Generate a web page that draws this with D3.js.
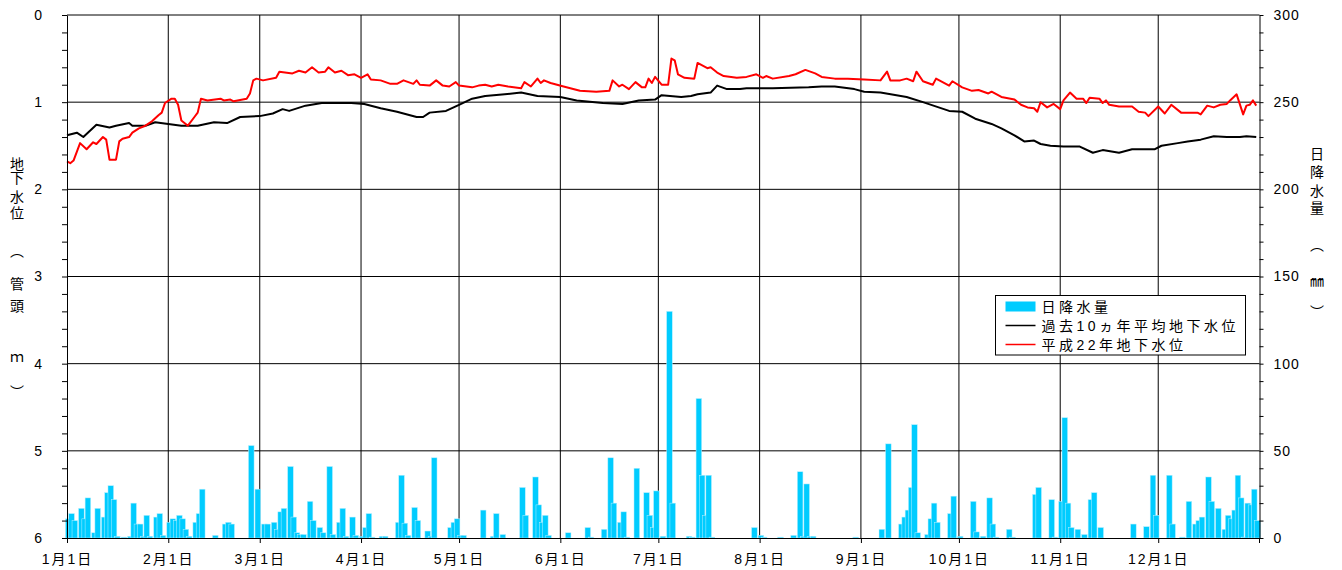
<!DOCTYPE html>
<html>
<head>
<meta charset="utf-8">
<script src="https://cdn.jsdelivr.net/npm/d3@7"></script>
<style>
body{margin:0;background:#fff;}
svg text{font-family:"Liberation Sans",Arial,"Noto Sans CJK JP",sans-serif;fill:#000;}
</style>
</head>
<body>
<svg id="chart" width="1342" height="570"></svg>
<script>
// month gridlines (day of year) and their labels
var monthStart = [0, 31, 59, 90, 120, 151, 181, 212, 243, 273, 304, 334];
var monthLabel = ['1月1日','2月1日','3月1日','4月1日','5月1日','6月1日','7月1日','8月1日','9月1日','10月1日','11月1日','12月1日'];

// daily rainfall (mm), day of year
var rainDay = [0,1,2,4,5,6,8,9,11,12,13,14,15,17,19,20,21,22,23,24,25,27,28,29,
  31,32,33,34,35,36,37,39,40,41,45,48,49,50,56,58,
  60,61,63,64,65,66,68,69,70,71,72,74,75,77,78,80,81,83,84,85,87,88,
  90,91,92,93,96,97,101,102,103,104,106,107,110,111,112,117,118,119,
  120,121,127,130,131,133,139,140,143,144,145,146,147,
  153,159,160,164,166,167,169,170,171,174,177,178,179,180,
  182,184,185,190,191,193,194,195,196,197,
  210,212,213,218,222,224,225,226,227,228,241,
  249,251,255,256,257,258,259,260,263,264,265,266,270,271,273,
  277,278,280,282,283,284,288,289,296,297,301,302,
  304,305,306,307,309,311,313,314,316,326,330,332,333,
  337,338,341,343,345,346,347,349,350,352,354,355,356,357,358,359,360,361,362,363,364];
var rainMm = [11,14,10,17,11,23,3,17,12,26,30,22,1,0.5,1,20,8,8,1,13,1,12,14,1.5,
  9,11,10,13,11,5,1,9,14,28,1.5,8,9,8,53,28,
  8,8,9,5,15,17,41,12,3,2,2,21,10,6,3,41,2,9,17,1,12,1.5,
  1,6,14,0.5,1,1,9,36,8.5,1.5,17.5,10,4,1,46,6,9,11,
  1.5,1.5,16,1,14,2,29,13,35,19,9,13,1.5,
  3,6,0.5,5,46,20,9,15,0.5,40,26,13,6,27,
  1,130,20,1,0.5,80,36,13,36,0.5,
  6,1.5,0.5,0.5,1.5,38,1,31,1,1,0.5,
  5,54,8,12,16,29,65,3,2,11,20,9,14,24,1,
  21,3.5,1,23,8,0.5,5,0.5,25,29,22,0.5,
  21,69,20,6,5,2,22,26,6,8,6.5,36,13,
  36,8,0.5,21,8,10,12,35,21,17,5,13,11,16,36,23,0.5,20,19,28,10];

// 10-year average groundwater level (m below pipe head)
var avgDay = [0,3,5,9,13,15,19,20,24,27,31,35,40,45,49,53,59,63,66,68,73,78,87,91,96,101,107,109,111,116,
  120,124,128,134,139,144,151,156,164,170,175,180,182,188,191,193,197,199,202,206,208,216,227,231,235,
  241,244,249,257,262,270,274,278,283,286,290,293,296,298,301,305,310,314,317,322,326,333,335,340,343,
  347,351,355,359,361,364];
var avgLevel = [1.38,1.35,1.40,1.26,1.29,1.27,1.24,1.27,1.27,1.23,1.25,1.27,1.27,1.23,1.24,1.17,1.16,1.13,1.08,1.10,1.04,1.01,1.01,1.02,1.07,1.11,1.17,1.17,1.12,1.10,
  1.03,0.96,0.93,0.91,0.89,0.93,0.94,0.98,1.01,1.02,0.98,0.97,0.92,0.94,0.93,0.91,0.89,0.81,0.85,0.85,0.84,0.84,0.83,0.82,0.82,
  0.85,0.88,0.89,0.94,1.00,1.10,1.11,1.19,1.25,1.30,1.38,1.45,1.44,1.48,1.50,1.51,1.51,1.58,1.55,1.58,1.54,1.54,1.50,1.47,1.45,
  1.43,1.39,1.40,1.40,1.39,1.40];

// H22 observed groundwater level
var obsDay = [0,1,2,4,6,8,9,11,12,13,15,16,17,19,20,22,24,26,28,29,30,32,33,34,35,37,39,40,41,43,47,48,50,51,55,56,57,58,60,
  64,65,69,71,73,75,77,79,80,82,84,86,88,90,92,93,96,99,101,103,106,107,108,111,113,115,117,119,
  120,124,126,128,130,132,135,139,140,142,144,145,146,148,152,157,162,166,167,169,170,172,174,176,177,178,179,180,
  182,184,185,186,187,189,192,193,196,197,199,201,205,208,211,213,214,216,221,223,226,229,231,235,239,
  244,249,251,252,255,257,259,260,262,265,266,270,271,274,277,279,282,283,286,290,292,294,296,297,298,300,302,
  304,305,307,309,311,312,313,316,317,318,319,322,326,328,330,331,334,336,338,341,344,346,347,349,351,353,355,356,
  358,360,361,362,363,364];
var obsLevel = [1.68,1.70,1.67,1.47,1.54,1.46,1.48,1.40,1.43,1.66,1.66,1.45,1.42,1.40,1.35,1.30,1.27,1.22,1.15,1.12,1.01,0.96,0.96,1.03,1.21,1.27,1.17,1.12,0.96,0.98,0.96,0.98,0.97,0.99,0.96,0.90,0.75,0.73,0.75,
  0.72,0.65,0.67,0.64,0.66,0.60,0.66,0.65,0.60,0.66,0.64,0.69,0.68,0.72,0.68,0.74,0.75,0.79,0.79,0.75,0.79,0.75,0.80,0.81,0.75,0.81,0.82,0.77,
  0.81,0.83,0.81,0.80,0.82,0.80,0.82,0.84,0.77,0.82,0.73,0.78,0.75,0.78,0.82,0.87,0.88,0.87,0.75,0.82,0.80,0.85,0.77,0.83,0.83,0.73,0.78,0.71,
  0.80,0.80,0.50,0.52,0.68,0.72,0.73,0.55,0.61,0.60,0.66,0.70,0.72,0.71,0.68,0.72,0.70,0.73,0.70,0.68,0.63,0.67,0.71,0.73,0.73,
  0.74,0.75,0.65,0.75,0.75,0.73,0.76,0.65,0.76,0.80,0.73,0.81,0.76,0.83,0.87,0.86,0.90,0.88,0.94,0.97,1.03,1.06,1.07,1.11,1.00,1.06,1.02,
  1.08,0.98,0.89,0.96,0.96,1.01,0.95,0.96,1.01,0.98,1.03,1.05,1.05,1.11,1.12,1.16,1.05,1.13,1.03,1.12,1.12,1.12,1.14,1.04,1.06,1.03,1.02,0.98,
  0.91,1.14,1.04,1.03,0.98,1.04];

var leftTicks = d3.range(0, 31).map(function(i){ return i / 5; });
var rightTicks = d3.range(0, 31).map(function(i){ return i * 10; });

var seriesNames = ['日降水量', '過去10ヵ年平均地下水位', '平成22年地下水位'];
var leftTitle = ['地','下','水','位','︵','管','頭','ｍ','︶'];
var rightTitle = ['日','降','水','量','︵','㎜','︶'];

var svg = d3.select('#chart');
var L = 67, R = 1259.5, T = 15, B = 538;

var x = d3.scaleLinear().domain([0, 365]).range([L, R]);
var yL = d3.scaleLinear().domain([0, 6]).range([T, B]);
var yR = d3.scaleLinear().domain([0, 300]).range([B, T]);

// grid
var grid = svg.append('g');
grid.selectAll('line.h')
    .data([1, 2, 3, 4, 5])
    .enter().append('line')
    .attr('x1', L).attr('x2', R)
    .attr('y1', function(d){ return yL(d); })
    .attr('y2', function(d){ return yL(d); })
    .attr('stroke', '#000').attr('stroke-width', 1);
grid.selectAll('line.v')
    .data(monthStart.slice(1))
    .enter().append('line')
    .attr('x1', function(d){ return x(d); })
    .attr('x2', function(d){ return x(d); })
    .attr('y1', T).attr('y2', B)
    .attr('stroke', '#000').attr('stroke-width', 1);
// top border
svg.append('line').attr('x1', L).attr('x2', R).attr('y1', T).attr('y2', T)
    .attr('stroke', '#000').attr('stroke-width', 1);

// rain bars
var bw = 5.6;
var rain = rainDay.map(function(d, i){ return {day: d, mm: rainMm[i]}; });
svg.append('g')
    .selectAll('rect')
    .data(rain)
    .enter().append('rect')
    .attr('x', function(d){ return x(d.day + 0.4) - bw / 2; })
    .attr('width', bw)
    .attr('y', function(d){ return yR(d.mm); })
    .attr('height', function(d){ return B - yR(d.mm); })
    .attr('fill', '#00ccff')
    .attr('stroke', '#b8efff')
    .attr('stroke-width', 0.5);

// level lines
function levelLine(days, vals, color){
    var pts = days.map(function(d, i){ return [x(d), yL(vals[i])]; });
    svg.append('path')
        .attr('d', d3.line()(pts))
        .attr('fill', 'none')
        .attr('stroke', color)
        .attr('stroke-width', 2)
        .attr('stroke-linejoin', 'round');
}
levelLine(avgDay, avgLevel, '#000');
levelLine(obsDay, obsLevel, '#ff0000');

// axes
var axL = svg.append('g').attr('transform', 'translate(' + L + ',0)')
    .call(d3.axisLeft(yL).tickValues(leftTicks).tickSize(5).tickSizeOuter(0).tickPadding(20)
        .tickFormat(function(d){ return Math.abs(d - Math.round(d)) < 1e-6 ? d3.format('d')(d) : ''; }));
var axR = svg.append('g').attr('transform', 'translate(' + R + ',0)')
    .call(d3.axisRight(yR).tickValues(rightTicks).tickSize(4).tickSizeOuter(0).tickPadding(10)
        .tickFormat(function(d){ return d % 50 === 0 ? d : ''; }));
var axB = svg.append('g').attr('transform', 'translate(0,' + B + ')')
    .call(d3.axisBottom(x).tickValues(monthStart).tickSize(5).tickSizeOuter(0).tickPadding(11)
        .tickFormat(function(d, i){ return monthLabel[i]; }));
[axL, axR, axB].forEach(function(a){
    a.select('.domain').attr('stroke', '#000').attr('stroke-width', 1);
    a.selectAll('.tick line').attr('stroke', '#000');
    a.selectAll('text').attr('font-family', null).style('font-size', '14px').attr('fill', '#000');
});
axR.selectAll('text').style('letter-spacing', '1px');
axB.selectAll('text').style('letter-spacing', '2px');
// right end of bottom axis
svg.append('line').attr('x1', R).attr('x2', R).attr('y1', B).attr('y2', B + 5).attr('stroke', '#000');

// vertical axis titles
var leftY = [164, 178, 197, 213, 251, 284, 306, 357, 392];
svg.append('g').selectAll('text')
    .data(leftTitle)
    .enter().append('text')
    .attr('x', 17)
    .attr('y', function(d, i){ return leftY[i]; })
    .attr('text-anchor', 'middle')
    .attr('dominant-baseline', 'central')
    .style('font-size', '14px')
    .text(function(d){ return d; });
var rightY = [154, 172, 191, 208, 245, 281, 312];
svg.append('g').selectAll('text')
    .data(rightTitle)
    .enter().append('text')
    .attr('x', 1317)
    .attr('y', function(d, i){ return rightY[i]; })
    .attr('text-anchor', 'middle')
    .attr('dominant-baseline', 'central')
    .style('font-size', '14px')
    .text(function(d){ return d; });

// legend
var lg = svg.append('g').attr('transform', 'translate(995.5,295.5)');
lg.append('rect').attr('width', 250).attr('height', 59.5)
    .attr('fill', '#fff').attr('stroke', '#000').attr('stroke-width', 1);
lg.append('rect').attr('x', 10).attr('y', 6).attr('width', 30).attr('height', 10).attr('fill', '#00ccff');
lg.append('line').attr('x1', 10).attr('x2', 40).attr('y1', 30).attr('y2', 30)
    .attr('stroke', '#000').attr('stroke-width', 1.5);
lg.append('line').attr('x1', 10).attr('x2', 40).attr('y1', 49).attr('y2', 49)
    .attr('stroke', '#ff0000').attr('stroke-width', 1.5);
lg.selectAll('text')
    .data(seriesNames)
    .enter().append('text')
    .attr('x', 46)
    .attr('y', function(d, i){ return 11 + i * 19; })
    .attr('dominant-baseline', 'central')
    .style('font-size', '14px')
    .style('letter-spacing', '3.5px')
    .text(function(d){ return d; });
</script>
</body>
</html>
